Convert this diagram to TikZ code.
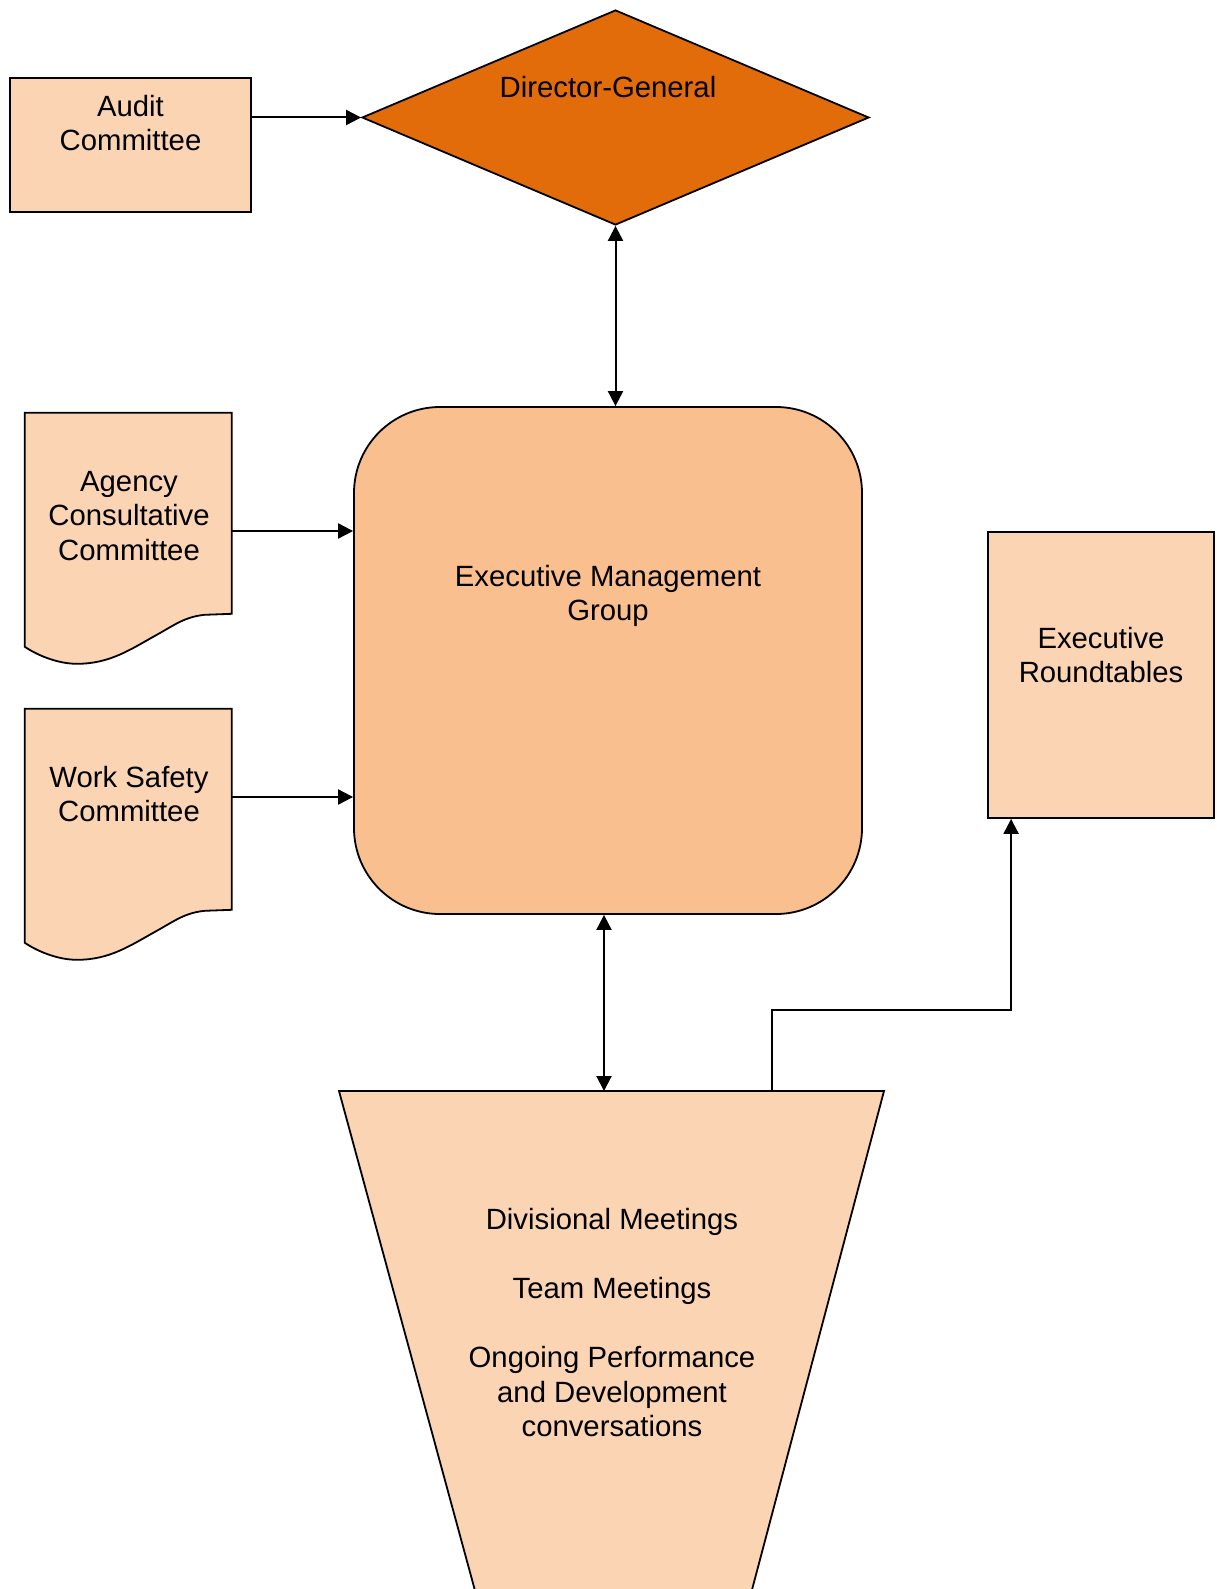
\documentclass[tikz,border=0pt]{standalone}
\usepackage{fontspec}
\setmainfont{Liberation Sans}
\usetikzlibrary{positioning, arrows.meta, shapes.geometric}
\definecolor{boxFill}{HTML}{FBD4B4}
\definecolor{groupFill}{HTML}{FABF8F}
\definecolor{chiefFill}{HTML}{E36C0A}

\begin{document}
\begin{tikzpicture}[x=1pt, y=-1pt,
  lbl/.style={align=center, font=\fontsize{29.3}{34.5}\selectfont, inner sep=0},
  box/.style={draw, line width=1.8pt, fill=boxFill, inner sep=0},
  arr/.style={line width=2pt, -{Triangle[length=15pt,width=15pt]}},
  arrs/.style={line width=2pt, {Triangle[length=15pt,width=15pt]}-{Triangle[length=15pt,width=15pt]}}]
  \useasboundingbox (0,0) rectangle (1216,1589);
  \clip (0,0) rectangle (1216,1589);

  % top: audit committee and director-general
  \node[box, minimum width=241pt, minimum height=134pt] (audit) at (130.5,145) {};
  \node[lbl] (auditT) at (130.5,123) {Audit\\Committee};
  \node[draw, line width=1.8pt, fill=chiefFill, diamond, minimum width=507pt, minimum height=215pt, inner sep=0] (dg) at (615.5,117.5) {};
  \node[lbl] (dgT) at (608,87) {Director-General};

  % executive management group
  \node[draw, line width=1.8pt, fill=groupFill, rounded corners=86pt, minimum width=508pt, minimum height=507pt, inner sep=0] (emg) at (608,660.5) {};
  \node[lbl] (emgT) at (608,596) {Executive Management\\Group};

  % committees (document shapes)
  \node[inner sep=0, minimum width=207pt, minimum height=201pt] (acc) at (128.5,513.5) {};
  \draw[box, shift={(acc.north west)}] (0,0) -- (207,0) -- (207,201) -- (180,202)
    .. controls (160,204) and (150,212) .. (132,222)
    .. controls (105,237) and (85,251) .. (52,251)
    .. controls (35,251) and (15,244) .. (0,234) -- cycle;
  \node[lbl] (accT) at (129,516) {Agency\\Consultative\\Committee};

  \node[inner sep=0, minimum width=207pt, minimum height=201pt] (ws) at (128.5,809.5) {};
  \draw[box, shift={(ws.north west)}] (0,0) -- (207,0) -- (207,201) -- (180,202)
    .. controls (160,204) and (150,212) .. (132,222)
    .. controls (105,237) and (85,251) .. (52,251)
    .. controls (35,251) and (15,244) .. (0,234) -- cycle;
  \node[lbl] (wsT) at (129,794) {Work Safety\\Committee};

  % roundtables
  \node[box, minimum width=226pt, minimum height=286pt] (rt) at (1101,675) {};
  \node[lbl] (rtT) at (1101,655) {Executive\\Roundtables};

  % funnel
  \draw[box] (339,1091) -- (884,1091) -- (744,1620) -- (483,1620) -- cycle;
  \coordinate (ftop) at (604,1091);
  \coordinate (fout) at (772,1091);
  \node[lbl] (funT) at (612,1323) {Divisional Meetings\\[34.5pt]Team Meetings\\[34.5pt]Ongoing Performance\\and Development\\conversations};

  % connectors
  \draw[arr] (dg.west -| audit.east) -- (dg.west);
  \draw[arrs] (dg.south) -- (dg.south |- emg.north);
  \draw[arr] ([yshift=-17.5pt]acc.east) -- ([yshift=-17.5pt]acc.east -| emg.west);
  \draw[arr] ([yshift=12.5pt]ws.east) -- ([yshift=12.5pt]ws.east -| emg.west);
  \draw[arrs] (emg.south -| ftop) -- (ftop);
  \draw[arr] (fout) -- ++(0,-81) -| ([xshift=24pt]rt.south west);
\end{tikzpicture}
\end{document}
